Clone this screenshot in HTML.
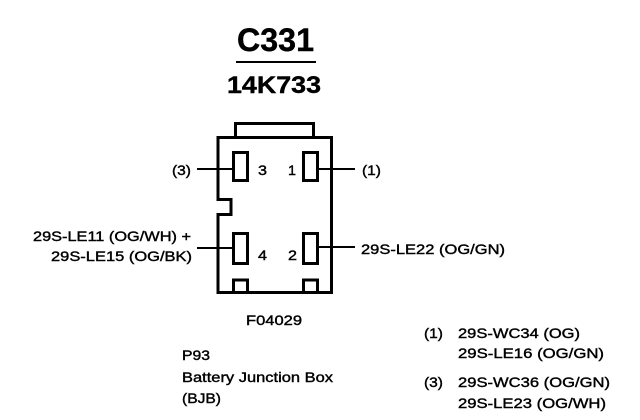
<!DOCTYPE html>
<html><head><meta charset="utf-8">
<style>
html,body{margin:0;padding:0;background:#fff}
body{width:640px;height:420px;overflow:hidden}
text{font-family:"Liberation Sans",sans-serif;fill:#000;stroke:#000;stroke-width:.4px}
</style></head>
<body>
<svg width="640" height="420" viewBox="0 0 640 420" xmlns="http://www.w3.org/2000/svg" style="display:block">
<text x="237" y="51" font-size="32" font-weight="bold" textLength="77" lengthAdjust="spacingAndGlyphs">C331</text>
<rect x="236" y="61" width="80" height="2" fill="#000"/>
<text x="227" y="93" font-size="24" font-weight="bold" textLength="94" lengthAdjust="spacingAndGlyphs">14K733</text>

<g fill="none" stroke="#000" stroke-width="3">
<path d="M218 137.500H331.500V292.500H218V214.500H231V199.500H218Z" />
<path d="M235.500 137V123.500H313.500V137"/>
<rect x="233.500" y="152.500" width="14" height="28"/>
<rect x="303.500" y="152.500" width="14" height="28"/>
<rect x="233.500" y="233.500" width="14" height="30"/>
<rect x="303.500" y="233.500" width="14" height="30"/>
<path d="M233.500 292V280H247.500V292"/>
<path d="M303.500 292V280H317.500V292"/>
</g>
<g stroke="#000" stroke-width="2" fill="none">
<path d="M197 169H232"/>
<path d="M319 169H355"/>
<path d="M197 248H232"/>
<path d="M319 247H355"/>
</g>

<g font-size="14">
<text x="172" y="175" textLength="19" lengthAdjust="spacingAndGlyphs">(3)</text>
<text x="258" y="175" textLength="9" lengthAdjust="spacingAndGlyphs">3</text>
<text x="288" y="175" textLength="8" lengthAdjust="spacingAndGlyphs">1</text>
<text x="362" y="175" textLength="19" lengthAdjust="spacingAndGlyphs">(1)</text>
<text x="258" y="260" textLength="9" lengthAdjust="spacingAndGlyphs">4</text>
<text x="288" y="260" textLength="9" lengthAdjust="spacingAndGlyphs">2</text>
<text x="33" y="241" textLength="158" lengthAdjust="spacingAndGlyphs">29S-LE11 (OG/WH) +</text>
<text x="51" y="261" textLength="141" lengthAdjust="spacingAndGlyphs">29S-LE15 (OG/BK)</text>
<text x="361" y="254" textLength="144" lengthAdjust="spacingAndGlyphs">29S-LE22 (OG/GN)</text>
<text x="246" y="325" textLength="56" lengthAdjust="spacingAndGlyphs">F04029</text>
<text x="182" y="360" textLength="28" lengthAdjust="spacingAndGlyphs">P93</text>
<text x="182" y="382" textLength="151" lengthAdjust="spacingAndGlyphs">Battery Junction Box</text>
<text x="182" y="403" textLength="39" lengthAdjust="spacingAndGlyphs">(BJB)</text>
<text x="424" y="338" textLength="19" lengthAdjust="spacingAndGlyphs">(1)</text>
<text x="458" y="338" textLength="122" lengthAdjust="spacingAndGlyphs">29S-WC34 (OG)</text>
<text x="458" y="358" textLength="146" lengthAdjust="spacingAndGlyphs">29S-LE16 (OG/GN)</text>
<text x="424" y="387" textLength="19" lengthAdjust="spacingAndGlyphs">(3)</text>
<text x="458" y="387" textLength="152" lengthAdjust="spacingAndGlyphs">29S-WC36 (OG/GN)</text>
<text x="458" y="408" textLength="148" lengthAdjust="spacingAndGlyphs">29S-LE23 (OG/WH)</text>
</g>
</svg>
</body></html>
